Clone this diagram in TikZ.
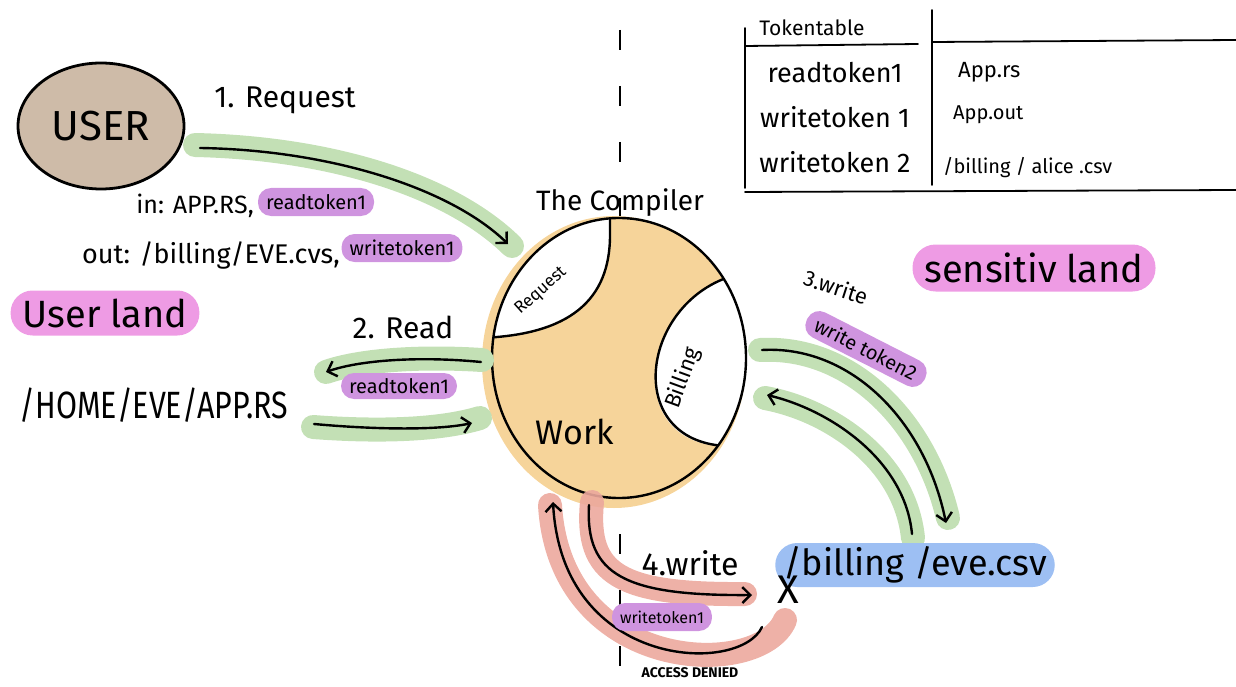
\documentclass[tikz,border=0pt]{standalone}
\usepackage{fontspec}
\setmainfont{Fira Sans}
\usetikzlibrary{arrows.meta,calc,shapes.geometric}
\definecolor{grn}{RGB}{195,224,181}
\definecolor{prp}{RGB}{207,148,223}
\definecolor{pnk}{RGB}{238,155,228}
\definecolor{blu}{RGB}{157,191,243}
\definecolor{red}{RGB}{236,168,157}
\definecolor{org}{RGB}{246,212,154}
\definecolor{tan}{RGB}{206,187,168}
\newcommand\fs[1]{\fontsize{#1}{#1}\selectfont}
\tikzset{
  band/.style={line width=24pt,line cap=round,draw=#1},
  ink/.style={line width=2.4pt,line cap=round,draw=black},
  arr/.style={ink,-{Straight Barb[length=8pt,width=16pt,line width=2.4pt]}},
  pill/.style={fill=#1,rounded corners=13pt,inner xsep=8pt,inner ysep=3pt,minimum height=28pt},
  lbl/.style={inner sep=0pt},
  rule/.style={line width=1.8pt,line cap=round}
}
\begin{document}
\begin{tikzpicture}[x=1pt,y=-1pt]
\useasboundingbox (0,0) rectangle (1236,687);

% trust boundary
\draw[line width=2pt,dash pattern=on 20pt off 36pt] (620,30) -- (620,687);

% token table
\draw[rule] (745,28) -- (745,188);
\draw[rule] (745,46) -- (918,44);
\draw[rule] (932,10) -- (932,185);
\draw[rule] (932,42) -- (1236,40);
\draw[rule] (745,192) -- (1236,190);
\node[lbl,font=\fs{21}] (tt) at (812,28) {Tokentable};
\node[lbl,font=\fs{27}] (r1) at (835,73) {readtoken1};
\node[lbl,font=\fs{27}] (r2) at (835,117) {writetoken 1};
\node[lbl,font=\fs{27}] (r3) at (835,162) {writetoken 2};
\node[lbl,font=\fs{22},anchor=west] (c1) at (958,72) {App.rs};
\node[lbl,font=\fs{20},anchor=west] (c2) at (953,115) {App.out};
\node[lbl,font=\fs{20},anchor=west] (c3) at (943,168) {/billing / alice .csv};

% the user
\node[ellipse,draw,line width=2.8pt,fill=tan,minimum width=166pt,minimum height=126pt,
      font=\fs{42}] (user) at (101,126) {USER};

% compiler body
\coordinate (cc) at (619,358);
\fill[org] (614,362) ellipse [x radius=132pt,y radius=146pt];
\begin{scope}
  \clip (cc) ellipse [x radius=127pt,y radius=140pt];
  \fill[white] (610,200) -- (610,235) .. controls (610,300) and (570,335) .. (480,338) -- (480,200) -- cycle;
  \fill[white] (760,272) -- (726,278) .. controls (640,310) and (625,440) .. (720,446) -- (760,446) -- cycle;
  \draw[ink] (610,215) -- (610,235) .. controls (610,300) and (570,335) .. (480,338);
  \draw[ink] (726,278) .. controls (640,310) and (625,440) .. (725,446);
\end{scope}
\node[draw,ink,ellipse,minimum width=254pt,minimum height=280pt] (comp) at (cc) {};
\node[lbl,font=\fs{28}] (ctitle) at (620,203) {The Compiler};
\node[lbl,font=\fs{17},rotate=42] (req) at (541,291) {Request};
\node[lbl,font=\fs{22},rotate=70] (bill) at (683,378) {Billing};
\node[lbl,font=\fs{34}] (work) at (575,432) {Work};

% 1. request
\coordinate (a1s) at (200,148);
\coordinate (a1e) at (508,244);
\draw[band=grn] (195,145) .. controls (330,148) and (450,185) .. (512,246);
\draw[arr] (a1s) .. controls (330,150) and (450,188) .. (a1e);
\node[lbl,font=\fs{30}] (l1) at (285,100) {1. Request};
\node[lbl,font=\fs{25},anchor=east] (inl) at (254,206) {in: APP.RS,};
\node[pill=prp,font=\fs{20}] (tok1) at (316,202) {readtoken1};
\node[lbl,font=\fs{27},anchor=east] (outl) at (340,255) {out: /billing/EVE.cvs,};
\node[pill=prp,font=\fs{20}] (tok2) at (402,248) {writetoken1};
\node[pill=pnk,font=\fs{38},rounded corners=22pt,minimum height=45pt,inner xsep=12pt] (uland) at (105,313) {User land};

% 2. read
\node[lbl,font=\fs{30}] (l2) at (403,327) {2. Read};
\node[lbl,font=\fs{38},xscale=0.8] (home) at (154,405) {/HOME/EVE/APP.RS};
\coordinate (a2s) at (481,362);
\coordinate (a2e) at (326,372);
\draw[band=grn] (482,360) .. controls (420,356) and (360,360) .. (326,372);
\draw[arr] (a2s) .. controls (420,356) and (360,360) .. (a2e);
\node[pill=prp,font=\fs{20},minimum height=26pt] (tok3) at (399,386) {readtoken1};
\coordinate (a3s) at (314,424);
\coordinate (a3e) at (472,423);
\draw[band=grn] (313,427) .. controls (380,432) and (440,430) .. (480,418);
\draw[arr] (a3s) .. controls (380,430) and (440,430) .. (a3e);

% sensitive side
\node[pill=pnk,font=\fs{38},rounded corners=23pt,minimum height=47pt,inner xsep=12pt] (sland) at (1034,268) {sensitiv land};
\node[lbl,font=\fs{22},rotate=-18] (l3) at (836,287) {3.write};
\node[pill=prp,font=\fs{20},rotate=-27,inner xsep=10pt] (tok4) at (866,349) {write token2};
\coordinate (b1s) at (762,350);
\coordinate (b1e) at (946,523);
\draw[band=grn] (760,350) .. controls (850,345) and (925,420) .. (948,518);
\draw[arr] (b1s) .. controls (850,345) and (925,420) .. (b1e);
\coordinate (b2s) at (912,534);
\coordinate (b2e) at (767,395);
\draw[band=grn] (913,538) .. controls (905,460) and (830,410) .. (765,398);
\draw[arr] (b2s) .. controls (905,460) and (830,410) .. (b2e);
\node[pill=blu,font=\fs{36},rounded corners=22pt,minimum height=44pt] (eve) at (915,565) {/billing /eve.csv};

% 4. write, denied
\coordinate (w1s) at (589,505);
\coordinate (w1e) at (752,595);
\draw[band=red,opacity=0.9] (592,502) .. controls (585,575) and (620,595) .. (745,594);
\draw[arr] (w1s) .. controls (585,575) and (625,596) .. (w1e);
\coordinate (w2s) at (762,627);
\coordinate (w2e) at (553,502);
\draw[band=red,opacity=0.9] (785,620) .. controls (760,680) and (560,675) .. (550,505);
\draw[arr] (w2s) .. controls (740,675) and (562,670) .. (w2e);
\node[lbl,font=\fs{32}] (l4) at (690,563) {4.write};
\node[lbl,font=\fs{40}] (xx) at (788,590) {X};
\node[pill=prp,font=\fs{16}] (tok5) at (662,617) {writetoken1};
\node[lbl,font=\bfseries\fs{14}] (deny) at (690,673) {ACCESS DENIED};
\end{tikzpicture}
\end{document}
